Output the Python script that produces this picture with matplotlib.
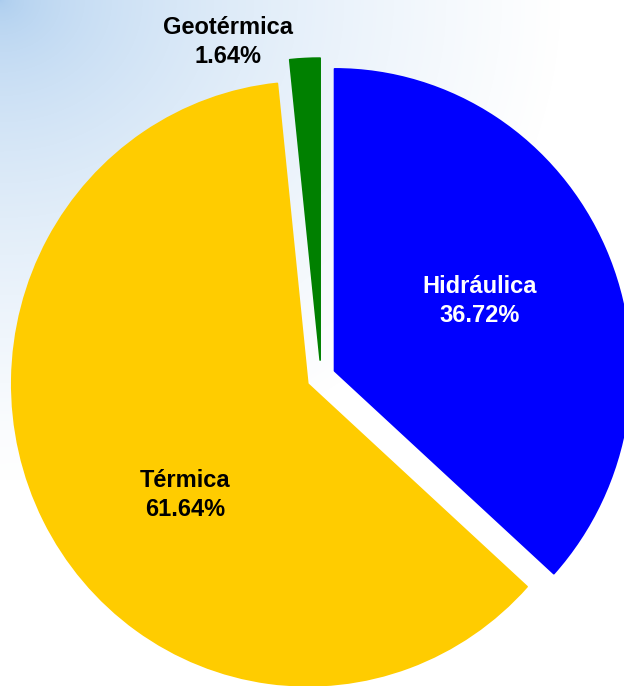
import numpy as np
import matplotlib.pyplot as plt

# generation mix by source (percent)
sources = ['Hidráulica', 'Térmica', 'Geotérmica']
shares = [36.72, 61.64, 1.64]
colors = ['#0000ff', '#ffcc00', '#008000']
label_colors = ['white', 'black', 'black']
explode = [0.05, 0.05, 0.056]
label_pos = [(0.537, 0.252), (-0.459, -0.391), (-0.314, 1.109)]

W, H = 624, 686
fig = plt.figure(figsize=(W / 100, H / 100), dpi=100)

# pale sky-blue wash fading out from the top-left corner
bg = fig.add_axes([0, 0, 1, 1], zorder=0)
yy, xx = np.mgrid[0:H, 0:W]
d = np.sqrt((xx / 560.0) ** 2 + (yy / 480.0) ** 2)
t = np.clip(d, 0, 1) ** 0.55
top_left = np.array([170, 204, 238]) / 255.0
white = np.array([1.0, 1.0, 1.0])
img = top_left[None, None, :] * (1 - t[..., None]) + white[None, None, :] * t[..., None]
bg.imshow(img, aspect='auto', extent=[0, 1, 0, 1], origin='upper')
bg.axis('off')

ax = fig.add_axes([0, 0, 1, 1], zorder=1)
ax.patch.set_alpha(0)
wedges, _ = ax.pie(shares, colors=colors, explode=explode, startangle=90,
                   counterclock=False, radius=1.0,
                   wedgeprops=dict(linewidth=1.2, joinstyle='round'))
for w, c in zip(wedges, colors):
    w.set_edgecolor(c)

# slightly taller than wide
ax.set_aspect('auto')
ax.set_xlim(-321 / 296, (W - 321) / 296)
ax.set_ylim((377 - H) / 302, 377 / 302)
ax.axis('off')

for name, val, (x, y), tc in zip(sources, shares, label_pos, label_colors):
    ax.text(x, y, f'{name}\n{val:.2f}%', ha='center', va='center',
            fontsize=17, fontweight='bold', color=tc,
            family='Liberation Sans', linespacing=1.3)

fig.savefig('out.png', dpi=100)
